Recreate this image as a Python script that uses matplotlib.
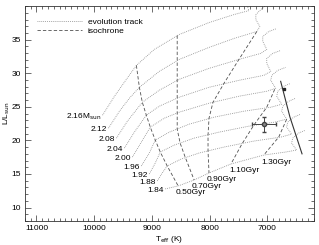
import matplotlib
matplotlib.use("Agg")
import matplotlib.pyplot as plt
from matplotlib.ticker import MultipleLocator

plt.rcParams['font.family'] = ['Liberation Sans', 'DejaVu Sans']

# Evolution tracks (Teff [K], L/Lsun)
masses = ["2.16", "2.12", "2.08", "2.04", "2.00", "1.96", "1.92", "1.88", "1.84"]
track_teff = [
    [9855, 9648, 9442, 9269, 8959, 8528, 8011, 7580, 7321, 7355],
    [9752, 9562, 9390, 9217, 8873, 8528, 8011, 7580, 7183, 7131, 7200, 7200, 7114, 7011],
    [9614, 9424, 9166, 8873, 8528, 8011, 7493, 7114, 7011, 7080, 7080, 6976, 6838],
    [9476, 9304, 9097, 8873, 8528, 8011, 7493, 7062, 6942, 7011, 7011, 6907, 6769],
    [9338, 9183, 9028, 8786, 8528, 8011, 7493, 7011, 6856, 6942, 6924, 6821, 6683],
    [9183, 9045, 8942, 8700, 8355, 7924, 7407, 6942, 6752, 6838, 6821, 6718, 6597],
    [9045, 8942, 8855, 8614, 8269, 7838, 7321, 6873, 6666, 6752, 6735, 6631, 6511],
    [8907, 8821, 8735, 8493, 8183, 7752, 7235, 6769, 6580, 6666, 6649, 6545, 6425],
    [8769, 8545, 8269, 8011, 7631, 7062, 6683, 6494, 6580, 6562, 6459, 6338],
]
track_lum = [
    [23.76, 26.58, 29.10, 31.17, 33.55, 35.77, 37.55, 38.74, 39.33, 40.22],
    [21.83, 24.35, 26.28, 27.91, 30.28, 32.06, 33.85, 35.18, 36.22, 36.96, 38.00, 38.74, 39.48, 40.22],
    [20.34, 22.87, 25.68, 27.47, 29.10, 30.73, 32.06, 32.96, 33.55, 34.74, 35.48, 36.22, 36.66],
    [18.86, 21.23, 23.76, 25.09, 26.43, 27.91, 28.95, 29.69, 30.28, 31.47, 32.21, 32.96, 33.40],
    [17.52, 19.75, 21.98, 23.31, 24.20, 25.54, 26.58, 27.32, 27.76, 28.95, 29.69, 30.43, 30.88],
    [16.19, 18.12, 20.05, 21.23, 22.42, 23.46, 24.35, 24.94, 25.39, 26.58, 27.32, 28.06, 28.50],
    [15.00, 16.63, 18.27, 19.30, 20.34, 21.23, 22.12, 22.72, 23.16, 24.35, 25.09, 25.83, 26.28],
    [13.96, 15.15, 16.19, 17.23, 18.12, 19.01, 19.90, 20.49, 20.94, 21.98, 22.72, 23.46, 23.90],
    [12.78, 13.22, 14.11, 15.15, 16.49, 17.82, 18.27, 18.56, 19.60, 20.34, 21.09, 21.53],
]

# Isochrones
ages = ["0.50Gyr", "0.70Gyr", "0.90Gyr", "1.10Gyr", "1.30Gyr"]
iso_teff = [
    [9269, 9217, 9166, 9097, 9028, 8942, 8855, 8735, 8545],
    [8562, 8562, 8562, 8562, 8562, 8562, 8511, 8424, 8269],
    [7183, 7493, 7752, 7942, 8011, 8028, 8028, 8011],
    [6873, 7011, 7235, 7442, 7631],
    [6666, 6804, 7062],
]
iso_lum = [
    [31.17, 27.91, 25.68, 23.76, 21.98, 20.05, 18.27, 16.19, 13.22],
    [35.63, 31.92, 28.95, 26.28, 24.05, 21.68, 19.60, 17.52, 14.11],
    [36.22, 32.06, 28.50, 25.68, 23.31, 20.79, 18.41, 15.15],
    [27.61, 24.94, 22.27, 19.45, 16.49],
    [23.16, 20.49, 17.82],
]

# Solid line and observed star
solid_teff = [6770, 6610, 6400]
solid_lum = [28.8, 23.5, 18.0]
star_teff, star_lum = 6718, 27.6
obs_teff, obs_lum = 7062, 22.42
obs_teff_err, obs_lum_err = 207, 1.1

fig = plt.figure(figsize=(3.19, 2.45), dpi=100)
ax = fig.add_axes([0.078, 0.098, 0.905, 0.877])

for i, m in enumerate(masses):
    ax.plot(track_teff[i], track_lum[i], ls=(0, (1, 1.3)), color='#8a8a8a', lw=0.6,
            label='evolution track' if i == 0 else None)
    lab = m + r'M$_{\rm sun}$' if i == 0 else m
    ax.annotate(lab, (track_teff[i][0], track_lum[i][0]), xytext=(-1, -1),
                textcoords='offset points', ha='right', va='center', fontsize=6)

for j, a in enumerate(ages):
    ax.plot(iso_teff[j], iso_lum[j], ls=(0, (4, 2.5)), color='#505050', lw=0.6,
            label='isochrone' if j == 0 else None)
    ax.annotate(a, (iso_teff[j][-1], iso_lum[j][-1]), xytext=(-1.5, -2.5),
                textcoords='offset points', ha='left', va='top', fontsize=6)

ax.plot(solid_teff, solid_lum, color='#333333', lw=0.8)
ax.plot([star_teff], [star_lum], marker='s', ms=1.5, color='#222222')
ax.errorbar([obs_teff], [obs_lum], xerr=[obs_teff_err], yerr=[obs_lum_err],
            fmt='o', ms=3, color='#444444', mfc='#888888', elinewidth=0.7, capsize=1.5)

ax.set_xlim(11200, 6200)
ax.set_ylim(8, 40)
ax.xaxis.set_major_locator(MultipleLocator(1000))
ax.xaxis.set_minor_locator(MultipleLocator(100))
ax.yaxis.set_major_locator(MultipleLocator(5))
ax.yaxis.set_minor_locator(MultipleLocator(1))
ax.tick_params(which='both', direction='in', top=True, right=True, labelsize=6,
               width=0.5, color='#333333', pad=3)
ax.tick_params(which='major', length=4)
ax.tick_params(which='minor', length=2)
ax.set_yticks([10, 15, 20, 25, 30, 35])
for s in ax.spines.values():
    s.set_linewidth(0.6)
    s.set_color('#333333')

ax.set_xlabel(r'T$_{\rm eff}$ (K)', fontsize=6, labelpad=1)
ax.set_ylabel(r'L/L$_{\rm sun}$', fontsize=6, labelpad=1)
ax.yaxis.set_label_coords(-0.046, 0.5)

ax.legend(loc='upper left', bbox_to_anchor=(0.03, 0.96), frameon=False, fontsize=6,
          handlelength=5.4, handletextpad=0.7, labelspacing=0.15, borderaxespad=0)

fig.savefig('out.png', dpi=100)
